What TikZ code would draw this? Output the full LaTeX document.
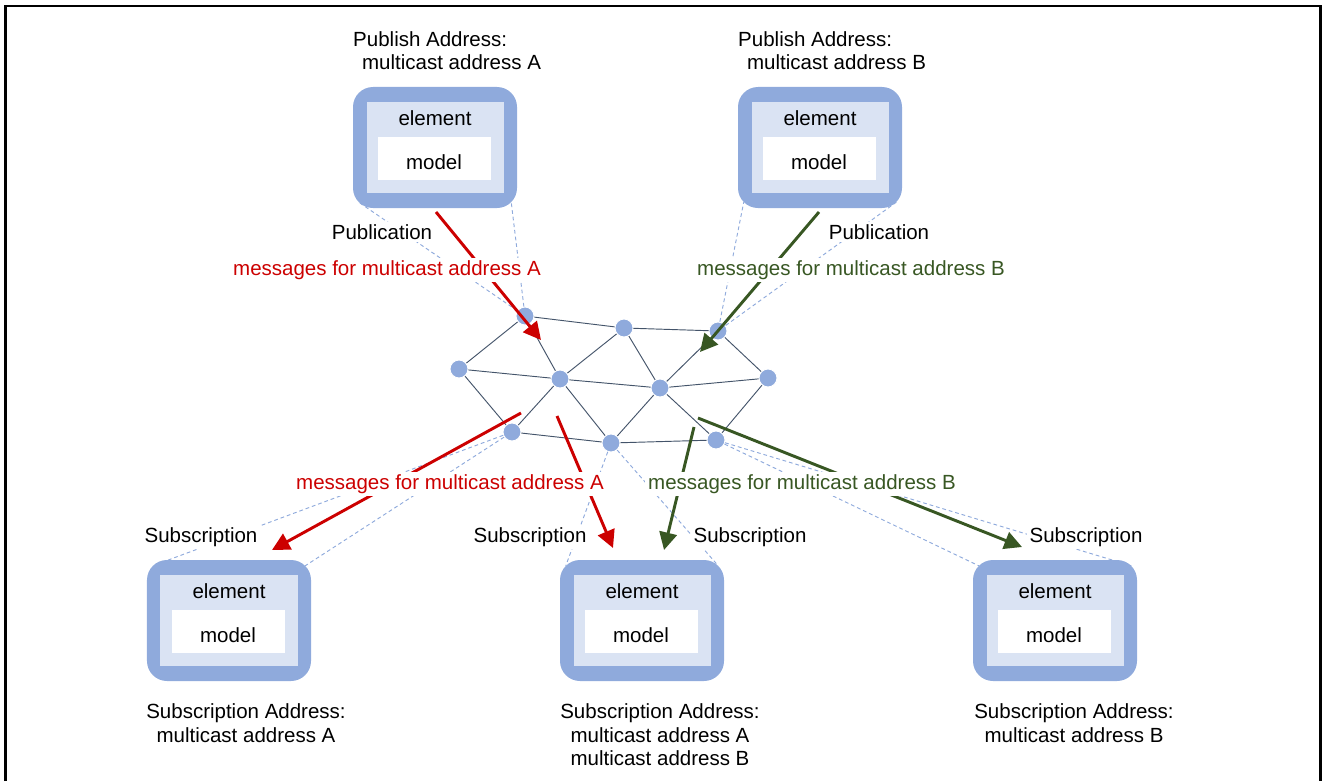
\documentclass[tikz,border=0pt]{standalone}
\usepackage{fontspec}
\setmainfont{Liberation Sans}
\usetikzlibrary{arrows.meta}

\definecolor{boxblue}{RGB}{143,170,220}
\definecolor{boxlight}{RGB}{218,227,243}
\definecolor{meshgray}{RGB}{68,84,106}
\definecolor{msgred}{RGB}{204,0,0}
\definecolor{msggreen}{RGB}{56,87,35}

\tikzset{
  elem/.style={rectangle, rounded corners=0.6cm, fill=boxblue,
    minimum width=4.92cm, minimum height=3.63cm, inner sep=0pt},
  elemin/.style={rectangle, fill=boxlight,
    minimum width=4.11cm, minimum height=2.73cm, inner sep=0pt},
  modelbox/.style={rectangle, fill=white, text height=18pt, text depth=0pt,
    minimum width=3.39cm, minimum height=1.29cm, inner sep=0pt},
  meshnode/.style={circle, fill=boxblue, draw=white, line width=0.8pt,
    minimum size=0.54cm, inner sep=0pt},
  meshlink/.style={draw=meshgray, line width=0.8pt},
  sightline/.style={draw=boxblue, line width=0.8pt, dash pattern=on 3.2pt off 2.5pt},
  msgarrow/.style={line width=2.5pt, -{Triangle[length=15pt,width=15pt]}},
  lbl/.style={fill=white, inner sep=2.5pt},
  addr/.style={inner sep=0pt},
}

\begin{document}
\begin{tikzpicture}[x=0.03cm, y=-0.03cm, font=\fontsize{17.5}{20}\selectfont]

\useasboundingbox (0,0) rectangle (1322,781);
\draw[line width=2.5pt] (5.5,781) -- (5.5,6) -- (1320.5,6) -- (1320.5,781);

% element boxes
\node[elem] (tl) at (435,147.5) {};
\node[elemin] (tlin) at (tl) {};
\node (tle) at ([shift={(0,-29.5)}]tl.center) {element};
\node[modelbox] (tlm) at ([shift={(-1,11)}]tl.center) {model};

\node[elem] (tr) at (820,147.5) {};
\node[elemin] (trin) at (tr) {};
\node (tre) at ([shift={(0,-29.5)}]tr.center) {element};
\node[modelbox] (trm) at ([shift={(-1,11)}]tr.center) {model};

\node[elem] (bl) at (229,620.5) {};
\node[elemin] (blin) at (bl) {};
\node (ble) at ([shift={(0,-29.5)}]bl.center) {element};
\node[modelbox] (blm) at ([shift={(-1,11)}]bl.center) {model};

\node[elem] (bm) at (642,620.5) {};
\node[elemin] (bmin) at (bm) {};
\node (bme) at ([shift={(0,-29.5)}]bm.center) {element};
\node[modelbox] (bmm) at ([shift={(-1,11)}]bm.center) {model};

\node[elem] (br) at (1055,620.5) {};
\node[elemin] (brin) at (br) {};
\node (bre) at ([shift={(0,-29.5)}]br.center) {element};
\node[modelbox] (brm) at ([shift={(-1,11)}]br.center) {model};

% mesh
\node[meshnode] (n1) at (525,316) {};
\node[meshnode] (n2) at (624,328) {};
\node[meshnode] (n3) at (718,331) {};
\node[meshnode] (n4) at (459,369) {};
\node[meshnode] (n5) at (560,379) {};
\node[meshnode] (n6) at (660,388) {};
\node[meshnode] (n7) at (768,378) {};
\node[meshnode] (n8) at (512,432) {};
\node[meshnode] (n9) at (611,443) {};
\node[meshnode] (n10) at (716,440) {};

\draw[meshlink] (n1) -- (n2);
\draw[meshlink] (n2) -- (n3);
\draw[meshlink] (n1) -- (n4);
\draw[meshlink] (n1) -- (n5);
\draw[meshlink] (n4) -- (n5);
\draw[meshlink] (n4) -- (n8);
\draw[meshlink] (n5) -- (n2);
\draw[meshlink] (n2) -- (n6);
\draw[meshlink] (n3) -- (n6);
\draw[meshlink] (n3) -- (n7);
\draw[meshlink] (n5) -- (n6);
\draw[meshlink] (n6) -- (n7);
\draw[meshlink] (n5) -- (n8);
\draw[meshlink] (n5) -- (n9);
\draw[meshlink] (n6) -- (n9);
\draw[meshlink] (n6) -- (n10);
\draw[meshlink] (n7) -- (n10);
\draw[meshlink] (n8) -- (n9);
\draw[meshlink] (n9) -- (n10);

% dashed sight lines
\draw[sightline] (n1) -- ([shift={(6,-6)}]tl.south west);
\draw[sightline] (n1) -- ([shift={(-6,-6)}]tl.south east);
\draw[sightline] (n3) -- ([shift={(6,-6)}]tr.south west);
\draw[sightline] (n3) -- ([shift={(-6,-6)}]tr.south east);
\draw[sightline] (n8) -- ([shift={(6,6)}]bl.north west);
\draw[sightline] (n8) -- ([shift={(-6,6)}]bl.north east);
\draw[sightline] (n9) -- ([shift={(6,6)}]bm.north west);
\draw[sightline] (n9) -- ([shift={(-6,6)}]bm.north east);
\draw[sightline] (n10) -- ([shift={(6,6)}]br.north west);
\draw[sightline] (n10) -- ([shift={(-6,6)}]br.north east);

% message arrows
\coordinate (pubAs) at (436,212);
\coordinate (pubAe) at (541,340);
\coordinate (pubBs) at (819,212);
\coordinate (pubBe) at (700,352);
\coordinate (subAls) at (521,413);
\coordinate (subAle) at (272,550);
\coordinate (subAms) at (557,416);
\coordinate (subAme) at (613,548);
\coordinate (subBms) at (694,427);
\coordinate (subBme) at (664,550);
\coordinate (subBrs) at (698,418);
\coordinate (subBre) at (1022,547);

\draw[msgarrow, msgred] (pubAs) -- (pubAe);
\draw[msgarrow, msggreen] (pubBs) -- (pubBe);
\draw[msgarrow, msgred] (subAls) -- (subAle);
\draw[msgarrow, msgred] (subAms) -- (subAme);
\draw[msgarrow, msggreen] (subBms) -- (subBme);
\draw[msgarrow, msggreen] (subBrs) -- (subBre);

% labels
\node[lbl] (pubA) at (382,232) {Publication};
\node[lbl] (pubB) at (879,232) {Publication};
\node[lbl, text=msgred] (pubAmsg) at (387,270) {messages for multicast address A};
\node[lbl, text=msggreen] (pubBmsg) at (851,270) {messages for multicast address B};
\node[lbl, text=msgred] (subAmsg) at (450,484) {messages for multicast address A};
\node[lbl, text=msggreen] (subBmsg) at (802,484) {messages for multicast address B};

\node[lbl] (subbl) at (201,537) {Subscription};
\node[lbl] (subbml) at (530,537) {Subscription};
\node[lbl] (subbmr) at (750,537) {Subscription};
\node[lbl] (subbr) at (1086,537) {Subscription};

\node[addr, align=left, anchor=west] (tladdr) at (353,50.5)
  {Publish Address:\\\hspace*{7.6pt}multicast address A};
\node[addr, align=left, anchor=west] (traddr) at (738,50.5)
  {Publish Address:\\\hspace*{7.6pt}multicast address B};

\node[addr, align=center] (bladdr) at (246,723)
  {Subscription Address:\\multicast address A};
\node[addr, align=center] (bmaddr) at (660,735)
  {Subscription Address:\\multicast address A\\multicast address B};
\node[addr, align=center] (braddr) at (1074,723)
  {Subscription Address:\\multicast address B};

\end{tikzpicture}
\end{document}
